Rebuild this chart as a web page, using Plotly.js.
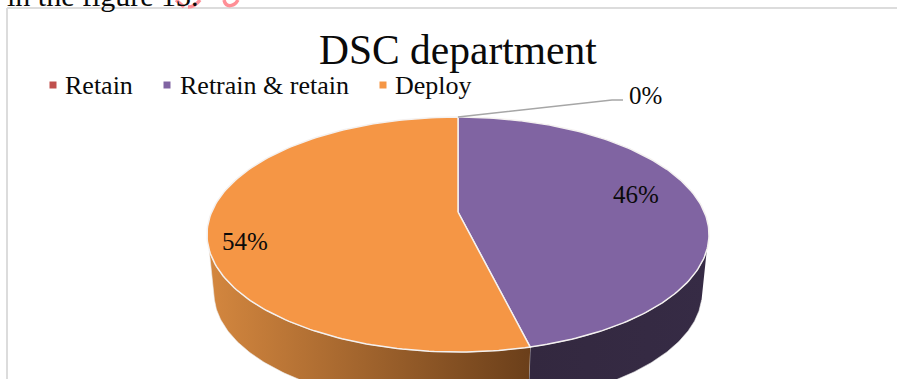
<!DOCTYPE html>
<html>
<head>
<meta charset="utf-8">
<script src="https://cdn.plot.ly/plotly-3.0.1.min.js"></script>
<style>html,body{margin:0;padding:0;background:#fff;overflow:hidden}#chart{width:897px;height:379px}</style>
</head>
<body>
<div id="chart"></div>
<script>
// DSC department: share of staff per decision, drawn as a tilted 3D pie.
const categories = ['Retain', 'Retrain & retain', 'Deploy'];
const shares = [0, 46, 54];
const topColors = ['#C0504D', '#8064A2', '#F59645'];
const wallFills = [
  {type: 'horizontal', colorscale: [[0, '#5c2523'], [1, '#5c2523']]},
  {type: 'horizontal', colorscale: [[0, '#33283f'], [1, '#362b45']]},
  {type: 'horizontal', start: 208, stop: 530, colorscale: [[0, '#D4873F'], [1, '#6B3F1A']]}
];
const font = 'Liberation Serif, serif';

// Pixel-like axes: the pie is laid out on a 897 x 379 plane with y pointing down.
const topDisc = {cx: 458, cy: 234.5, rx: 251, ry: 117.5};
const baseDisc = {cx: 458, cy: 293, rx: 244, ry: 114};
const tilt = 0.15; // perspective compression of the rim angles
const hub = {x: topDisc.cx, y: 212};
const silhouetteTop = 97.6, silhouetteBase = 93.5;

const rad = d => d * Math.PI / 180;
// Pie angle (clockwise from 12 o'clock) to angle on the foreshortened rim.
function rimAngle(theta) {
  const a = Math.sin(rad(theta)), b = Math.cos(rad(theta));
  const d = 1 + tilt * b;
  let phi = Math.atan2(a * Math.sqrt(1 - tilt * tilt) / d, (b + tilt) / d) * 180 / Math.PI;
  if (phi < 0) phi += 360;
  if (theta >= 360) phi = 360;
  return phi;
}
const rimX = (disc, phi) => disc.cx + disc.rx * Math.sin(rad(phi));
const rimY = (disc, phi) => disc.cy - disc.ry * Math.cos(rad(phi));

function arc(disc, from, to, n) {
  const xs = [], ys = [];
  for (let i = 0; i <= n; i++) {
    const phi = from + (to - from) * i / n;
    xs.push(rimX(disc, phi)); ys.push(rimY(disc, phi));
  }
  return {xs, ys};
}

const traces = [];
const tops = [];
let running = 0;
const total = shares.reduce((s, v) => s + v, 0);
shares.forEach((v, i) => {
  const start = rimAngle(running / total * 360);
  running += v;
  const end = rimAngle(running / total * 360);

  // Outer wall: only the part of the slice that faces the viewer.
  const tFrom = Math.max(start, silhouetteTop), tTo = Math.min(end, 360 - silhouetteTop);
  if (tTo > tFrom) {
    const bFrom = start > silhouetteTop ? start : silhouetteBase;
    const bTo = end < 360 - silhouetteTop ? end : 360 - silhouetteBase;
    const upper = arc(topDisc, tFrom, tTo, 120);
    const lower = arc(baseDisc, bTo, bFrom, 120);
    traces.push({
      x: upper.xs.concat(lower.xs), y: upper.ys.concat(lower.ys),
      mode: 'lines', fill: 'toself', fillgradient: wallFills[i],
      line: {color: 'rgba(235,235,235,0.75)', width: 0.8},
      hoverinfo: 'skip', showlegend: false
    });
  }

  // Top face of the slice.
  const rim = arc(topDisc, start, end, 160);
  tops.push({
    x: [hub.x].concat(rim.xs, [hub.x]), y: [hub.y].concat(rim.ys, [hub.y]),
    mode: 'lines', fill: 'toself', fillcolor: topColors[i],
    line: {color: '#F4F1F0', width: 1.5},
    name: categories[i], text: Math.round(v) + '%', hoverinfo: 'name+text', showlegend: false
  });
});
traces.push(...tops);

// Leader line of the empty slice.
traces.push({
  x: [458, 612, 623], y: [117, 100, 100], mode: 'lines',
  line: {color: '#A6A6A6', width: 1.5}, hoverinfo: 'skip', showlegend: false
});

// Key above the pie.
const keyMarkerX = [53, 167, 383];
const keyLabelX = [65, 180, 395];
traces.push({
  x: keyMarkerX, y: [85, 85, 85], mode: 'markers',
  marker: {symbol: 'square', size: 7, color: topColors},
  hoverinfo: 'skip', showlegend: false
});

const label = (value, x, y) => ({
  text: Math.round(value) + '%', x, y, showarrow: false, xanchor: 'center', yanchor: 'middle',
  font: {family: font, size: 25, color: '#0a0a0a'}
});
const keyLabel = (name, x) => ({
  text: name, x, y: 85, showarrow: false, xanchor: 'left', yanchor: 'middle', xshift: -2,
  font: {family: font, size: 26, color: '#0a0a0a'}
});

const layout = {
  width: 897, height: 379,
  margin: {l: 0, r: 0, t: 0, b: 0},
  paper_bgcolor: '#fff', plot_bgcolor: '#fff',
  showlegend: false,
  xaxis: {range: [0, 897], visible: false, fixedrange: true},
  yaxis: {range: [379, 0], visible: false, fixedrange: true},
  shapes: [
    {type: 'line', x0: 7, x1: 897, y0: 8, y1: 8, line: {color: '#DCDCDC', width: 2}, layer: 'below'},
    {type: 'line', x0: 7, x1: 7, y0: 8, y1: 379, line: {color: '#DCDCDC', width: 2}, layer: 'below'},
    {type: 'path', path: 'M176,0 L184,7 M188,7 C193,7 197,4 200,0', line: {color: '#FF8F96', width: 3.5}},
    {type: 'path', path: 'M224,0 C226,8 234,7 238,0', line: {color: '#FF8F96', width: 3.5}}
  ],
  annotations: [
    {text: 'DSC department', x: 458, y: 50, showarrow: false, xanchor: 'center', yanchor: 'middle',
     font: {family: font, size: 41.5, color: '#0a0a0a'}},
    {text: 'in the figure 13.', x: 5, y: 14, showarrow: false, xanchor: 'left', yanchor: 'bottom',
     font: {family: font, size: 30, color: '#0a0a0a'}},
    ...categories.map((name, i) => keyLabel(name, keyLabelX[i])),
    label(shares[0], 645, 95),
    label(shares[1], 636, 194),
    label(shares[2], 245, 241)
  ]
};

Plotly.newPlot('chart', traces, layout, {displayModeBar: false, staticPlot: true});
</script>
</body>
</html>
